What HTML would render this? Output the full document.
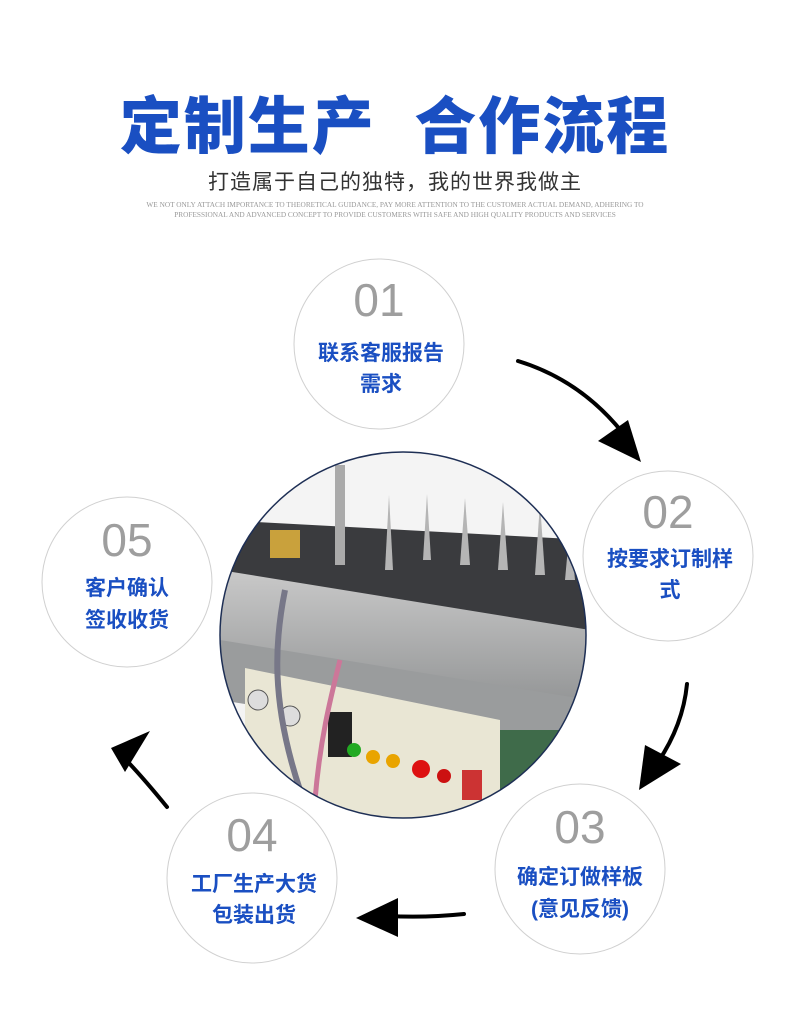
<!DOCTYPE html>
<html><head><meta charset="utf-8"><style>
html,body{margin:0;padding:0;background:#fff;}
body{width:790px;height:1031px;position:relative;overflow:hidden;font-family:"Liberation Sans","Noto Sans CJK SC",sans-serif;}
.t{position:absolute;left:0;width:790px;text-align:center;}
</style></head><body>
<div class="t" style="top:76px;font-size:62px;font-weight:900;color:#1a4fc2;letter-spacing:2px;">定制生产&nbsp;&nbsp;合作流程</div>
<div class="t" style="top:166px;font-size:21px;color:#333;letter-spacing:1px;">打造属于自己的独特，我的世界我做主</div>
<div class="t" style="top:200px;font-family:'Liberation Serif',serif;font-size:7.3px;color:#999;line-height:10px;">WE NOT ONLY ATTACH IMPORTANCE TO THEORETICAL GUIDANCE, PAY MORE ATTENTION TO THE CUSTOMER ACTUAL DEMAND, ADHERING TO<br>PROFESSIONAL AND ADVANCED CONCEPT TO PROVIDE CUSTOMERS WITH SAFE AND HIGH QUALITY PRODUCTS AND SERVICES</div>
<svg width="790" height="1031" style="position:absolute;left:0;top:0" xmlns="http://www.w3.org/2000/svg">
<defs>
<clipPath id="c"><circle cx="403" cy="635" r="183"/></clipPath>
<linearGradient id="b" x1="0" y1="0" x2="0" y2="1"><stop offset="0" stop-color="#c9c9c9"/><stop offset="1" stop-color="#8d8f90"/></linearGradient>
</defs>
<g clip-path="url(#c)">
<rect x="200" y="440" width="420" height="400" fill="#f4f4f4"/>
<polygon points="220,520 590,540 590,650 220,580" fill="#3a3b3e"/>
<polygon points="220,570 590,630 590,720 220,660" fill="url(#b)"/>
<polygon points="220,640 590,700 590,760 220,700" fill="#9a9c9d"/>
<rect x="210" y="730" width="400" height="100" fill="#3f6b4a"/>
<polygon points="245,668 500,720 500,830 245,830" fill="#e9e6d4"/>
<circle cx="258" cy="700" r="10" fill="#ddd" stroke="#555"/>
<circle cx="290" cy="716" r="10" fill="#ddd" stroke="#555"/>
<rect x="328" y="712" width="24" height="45" fill="#222"/>
<circle cx="354" cy="750" r="7" fill="#2a2"/>
<circle cx="373" cy="757" r="7" fill="#e9a400"/>
<circle cx="393" cy="761" r="7" fill="#e9a400"/>
<circle cx="421" cy="769" r="9" fill="#d11"/>
<circle cx="444" cy="776" r="7" fill="#c11"/>
<rect x="462" y="770" width="20" height="30" fill="#cc3333"/>
<path d="M285,590 C275,640 270,700 300,790" stroke="#778" stroke-width="6" fill="none"/>
<path d="M340,660 C330,700 320,740 315,800" stroke="#c79" stroke-width="5" fill="none"/>
<rect x="335" y="465" width="10" height="100" fill="#aaa"/>
<rect x="270" y="530" width="30" height="28" fill="#c9a13c"/>
<g fill="#b5b5b5">
<polygon points="385,570 389,495 393,570"/><polygon points="423,560 427,494 431,560"/>
<polygon points="460,565 465,498 470,565"/><polygon points="498,570 503,502 508,570"/>
<polygon points="535,575 540,503 545,575"/><polygon points="565,580 570,525 575,580"/>
</g>
</g>
<circle cx="403" cy="635" r="183" fill="none" stroke="#1e2f55" stroke-width="1.5"/>
<g fill="#fff" stroke="#d0d0d0" stroke-width="1">
<circle cx="379" cy="344" r="85"/>
<circle cx="668" cy="556" r="85"/>
<circle cx="580" cy="869" r="85"/>
<circle cx="252" cy="878" r="85"/>
<circle cx="127" cy="582" r="85"/>
</g>
<g font-family="Liberation Sans, sans-serif" font-size="46" fill="#9e9e9e" text-anchor="middle">
<text x="379" y="316">01</text><text x="668" y="528">02</text><text x="580" y="843">03</text><text x="252" y="851">04</text><text x="127" y="556">05</text>
</g>
<g font-family="Liberation Sans, Noto Sans CJK SC, sans-serif" font-size="21" font-weight="bold" fill="#1a4fc2" text-anchor="middle">
<text x="381" y="360">联系客服报告</text><text x="381" y="391">需求</text>
<text x="670" y="566">按要求订制样</text><text x="670" y="597">式</text>
<text x="580" y="884">确定订做样板</text><text x="580" y="916">(意见反馈)</text>
<text x="254" y="891">工厂生产大货</text><text x="254" y="922">包装出货</text>
<text x="127" y="595">客户确认</text><text x="127" y="627">签收收货</text>
</g>
<g stroke="#000" stroke-width="4" fill="none" stroke-linecap="round">
<path d="M518,361 Q580,380 622,432"/>
<path d="M687,684 Q683,725 658,762"/>
<path d="M464,914 Q425,918 388,916"/>
<path d="M167,807 Q145,780 128,762"/>
</g>
<g fill="#000">
<polygon points="641,462 598,441 628,420"/>
<polygon points="639,790 645,745 681,764"/>
<polygon points="356,918 398,898 398,937"/>
<polygon points="111,748 150,731 125,772"/>
</g>
</svg>
</body></html>
